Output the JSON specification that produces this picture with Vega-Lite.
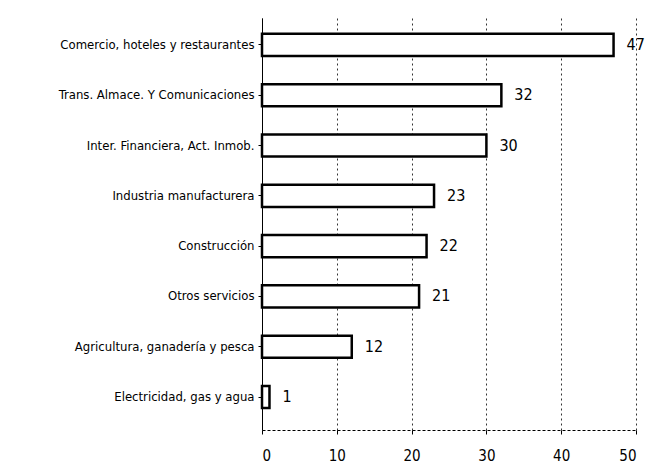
{
  "$schema": "https://vega.github.io/schema/vega-lite/v6.json",
  "width": 374,
  "height": 412,
  "autosize": {"type": "none"},
  "padding": {"left": 262, "top": 18, "right": 24, "bottom": 38},
  "background": "white",
  "config": {
    "view": {"stroke": null},
    "font": "DejaVu Sans Condensed, Liberation Sans, sans-serif"
  },
  "data": {
    "values": [
      {"sector": "Comercio, hoteles y restaurantes", "valor": 47},
      {"sector": "Trans. Almace. Y Comunicaciones", "valor": 32},
      {"sector": "Inter. Financiera, Act. Inmob.", "valor": 30},
      {"sector": "Industria manufacturera", "valor": 23},
      {"sector": "Construcción", "valor": 22},
      {"sector": "Otros servicios", "valor": 21},
      {"sector": "Agricultura, ganadería y pesca", "valor": 12},
      {"sector": "Electricidad, gas y agua", "valor": 1}
    ]
  },
  "encoding": {
    "y": {
      "field": "sector",
      "type": "nominal",
      "sort": null,
      "scale": {"paddingInner": 0.56, "paddingOuter": 0.375, "align": 0.42},
      "axis": {
        "title": null,
        "labelFont": "DejaVu Sans Condensed, Liberation Sans, sans-serif",
        "labelFontSize": 13,
        "labelColor": "black",
        "labelPadding": 4,
        "domainColor": "black",
        "tickColor": "black",
        "tickSize": 4,
        "labelLimit": 260
      }
    },
    "x": {
      "field": "valor",
      "type": "quantitative",
      "scale": {"domain": [0, 50], "nice": false},
      "axis": {
        "title": null,
        "values": [0, 10, 20, 30, 40, 50],
        "labelFont": "DejaVu Sans Condensed, Liberation Sans, sans-serif",
        "labelFontSize": 15,
        "labelColor": "black",
        "labelPadding": 14,
        "domainColor": "black",
        "domainDash": [3, 2],
        "tickColor": "black",
        "tickSize": 4,
        "grid": true,
        "gridColor": "black",
        "gridDash": [2, 3],
        "gridOpacity": 0.8
      }
    }
  },
  "layer": [
    {
      "mark": {"type": "bar", "fill": "white", "stroke": "black", "strokeWidth": 2.5}
    },
    {
      "mark": {"type": "text", "align": "left", "dx": 13, "fontSize": 16, "font": "DejaVu Sans Condensed, Liberation Sans, sans-serif", "color": "black"},
      "encoding": {"text": {"field": "valor", "type": "quantitative"}}
    }
  ]
}
